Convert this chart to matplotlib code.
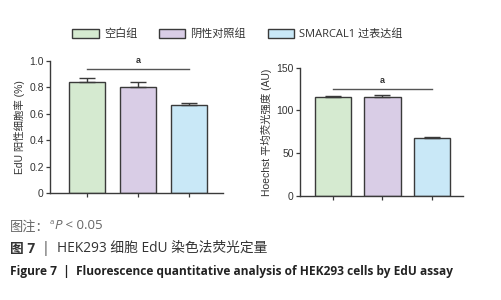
import matplotlib
matplotlib.use("Agg")
import matplotlib.pyplot as plt
from matplotlib.patches import Patch

groups = ["空白组", "阴性对照组", "SMARCAL1 过表达组"]
colors = ["#d5ead0", "#d9cde6", "#c9e8f7"]

edu_rate = [0.838, 0.800, 0.664]
edu_err = [0.031, 0.043, 0.020]
edu_sig = 0.937

hoechst = [115.4, 116.1, 67.8]
hoechst_err = [1.6, 1.6, 1.2]
hoechst_sig = 125.5

CJK = ["Liberation Sans", "Noto Sans CJK SC", "DejaVu Sans"]
CAP = ["Open Sans", "Noto Sans CJK SC", "DejaVu Sans"]
EDGE = "#3a3a3a"

plt.rcParams["font.family"] = CJK

fig = plt.figure(figsize=(5.01, 3.00), dpi=100)
W, H = 501, 300


def px_axes(x0, x1, ytop, ybot):
    return fig.add_axes([x0 / W, (H - ybot) / H, (x1 - x0) / W, (ybot - ytop) / H])


def bar_panel(ax, vals, errs, sig, ylim, yticks, yticklabels, ylabel, xlim, width):
    pos = list(range(len(vals)))
    ax.bar(pos, vals, width=width, color=colors, edgecolor=EDGE, linewidth=1.0, zorder=2)
    ax.errorbar(pos, vals, yerr=[[0] * len(errs), errs], fmt="none", ecolor=EDGE,
                elinewidth=1.0, capsize=5.5, capthick=1.0, zorder=3)
    ax.plot([0, 2], [sig, sig], color="#555555", lw=1.0)
    ax.text(1, sig + (ylim[1] - ylim[0]) * 0.03, "a", ha="center", va="bottom",
            fontsize=6.5, fontweight="bold", color="#333333")
    ax.set_xlim(*xlim)
    ax.set_ylim(*ylim)
    ax.set_yticks(yticks)
    ax.set_yticklabels(yticklabels)
    ax.set_xticks(pos)
    ax.set_xticklabels([])
    for s in ("top", "right"):
        ax.spines[s].set_visible(False)
    for s in ("left", "bottom"):
        ax.spines[s].set_color(EDGE)
        ax.spines[s].set_linewidth(1.0)
    ax.tick_params(axis="both", colors=EDGE, length=3, width=0.9, direction="out",
                   labelsize=7.5, labelcolor="#333333", pad=1.5)
    ax.set_ylabel(ylabel, fontsize=7.5, color="#333333", labelpad=3)


ax1 = px_axes(50, 223, 61, 193)
bar_panel(ax1, edu_rate, edu_err, edu_sig, (0, 1.0), [0, 0.2, 0.4, 0.6, 0.8, 1.0],
          ["0", "0.2", "0.4", "0.6", "0.8", "1.0"], "EdU 阳性细胞率 (%)",
          (-0.73, 2.67), 0.72)

ax2 = px_axes(300, 463, 67.7, 196)
bar_panel(ax2, hoechst, hoechst_err, hoechst_sig, (0, 150), [0, 50, 100, 150],
          ["0", "50", "100", "150"], "Hoechst 平均荧光强度 (AU)",
          (-0.67, 2.63), 0.73)

handles = [Patch(facecolor=c, edgecolor=EDGE, linewidth=1.0) for c in colors]
leg = fig.legend(handles, groups, ncol=3, loc="center left",
                 bbox_to_anchor=(72 / W, 1 - 34.5 / H), frameon=False,
                 prop={"family": CAP, "size": 8}, handlelength=2.4,
                 handleheight=0.85, handletextpad=0.45, columnspacing=1.95,
                 borderaxespad=0, borderpad=0)
for t in leg.get_texts():
    t.set_color("#333333")

# caption block
t1 = fig.text(10 / W, 1 - 227 / H, "图注：", fontsize=9.5, color="#666666",
              family=CAP, va="center")
a_txt = plt.annotate("a", xy=(1, 0.6), xycoords=t1, fontsize=5.5, color="#666666",
                     family=CAP, va="bottom", ha="left", annotation_clip=False)
p_txt = plt.annotate("P", xy=(1, 0), xycoords=a_txt, xytext=(0.3, -4.5),
                     textcoords="offset points", fontsize=9.5, color="#666666",
                     family=CAP, style="italic", va="bottom", ha="left",
                     annotation_clip=False)
plt.annotate(" < 0.05", xy=(1, 0), xycoords=p_txt, fontsize=9.5, color="#666666",
             family=CAP, va="bottom", ha="left", annotation_clip=False)

f7 = fig.text(10 / W, 1 - 249 / H, "图 7", fontsize=9.9, color="#333333",
              family=CAP, fontweight="bold", va="center")
plt.annotate("  |  HEK293 细胞 EdU 染色法荧光定量", xy=(1, 0), xycoords=f7,
             fontsize=9.9, color="#333333", family=CAP, va="bottom", ha="left",
             annotation_clip=False)

fig.text(10 / W, 1 - 271 / H,
         "Figure 7  |  Fluorescence quantitative analysis of HEK293 cells by EdU assay",
         fontsize=8.55, color="#222222", family=CAP, fontweight="bold", va="center")

fig.savefig("out.png", dpi=100)
